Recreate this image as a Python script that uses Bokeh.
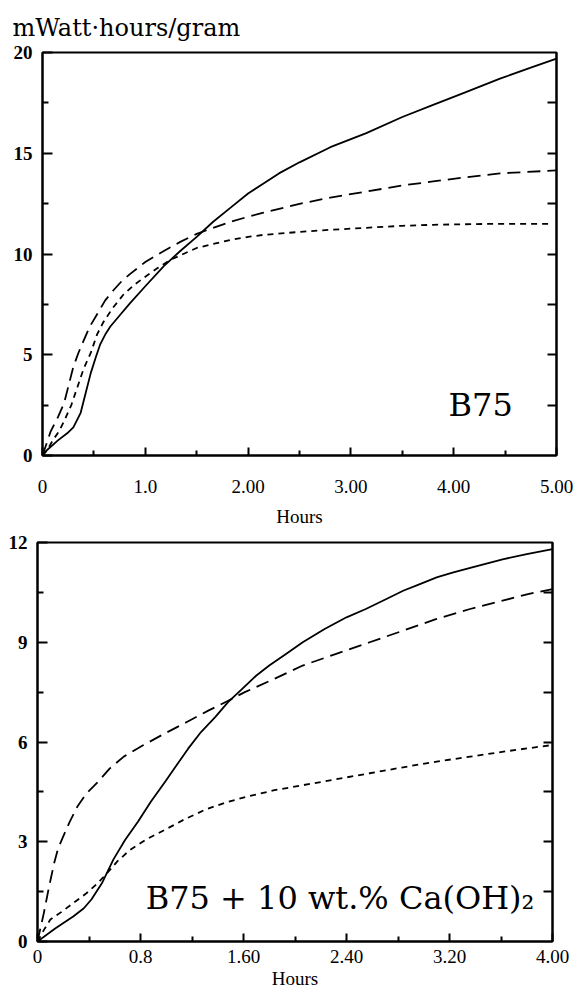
from bokeh.plotting import figure
from bokeh.models import FixedTicker, LinearAxis, Label, Range1d
from bokeh.layouts import column
from bokeh.embed import file_html
from bokeh.resources import INLINE

# ---------------- data: B75 ----------------
b75_solid_h = [0, 0.05, 0.15, 0.24, 0.30, 0.37, 0.42, 0.47, 0.52, 0.56, 0.61, 0.66, 0.75, 0.85, 1.00, 1.18, 1.34,
               1.50, 1.66, 1.83, 2.00, 2.15, 2.30, 2.50, 2.80, 3.15, 3.50, 3.80, 4.10, 4.45, 4.75, 5.00]
b75_solid_v = [0, 0.3, 0.75, 1.1, 1.4, 2.1, 3.1, 4.1, 4.9, 5.5, 6.0, 6.4, 6.95, 7.55, 8.4, 9.4, 10.15,
               10.85, 11.6, 12.3, 13.0, 13.5, 14.0, 14.55, 15.3, 16.0, 16.8, 17.4, 18.0, 18.7, 19.25, 19.7]
b75_long_h = [0, 0.08, 0.15, 0.21, 0.26, 0.30, 0.35, 0.40, 0.46, 0.53, 0.61, 0.69, 0.77, 0.85, 1.00, 1.18, 1.34,
              1.50, 1.66, 1.83, 2.00, 2.15, 2.51, 2.80, 3.15, 3.50, 3.80, 4.10, 4.45, 5.00]
b75_long_v = [0, 1.2, 1.9, 2.6, 3.6, 4.4, 5.1, 5.7, 6.4, 7.0, 7.7, 8.2, 8.65, 9.0, 9.6, 10.15, 10.6,
              11.0, 11.3, 11.6, 11.85, 12.05, 12.5, 12.8, 13.1, 13.4, 13.6, 13.8, 14.0, 14.15]
b75_short_h = [0, 0.05, 0.10, 0.16, 0.21, 0.28, 0.34, 0.40, 0.47, 0.53, 0.59, 0.68, 0.79, 0.90, 1.02, 1.12, 1.24,
               1.37, 1.50, 1.66, 1.83, 2.00, 2.15, 2.51, 2.80, 3.15, 3.50, 3.80, 4.40, 4.92]
b75_short_v = [0, 0.3, 0.75, 1.2, 1.7, 2.5, 3.4, 4.3, 5.1, 6.0, 6.6, 7.3, 8.0, 8.5, 8.95, 9.3, 9.7,
               10.0, 10.3, 10.5, 10.7, 10.85, 10.95, 11.1, 11.2, 11.3, 11.4, 11.45, 11.5, 11.5]

# ---------------- data: B75 + 10 wt.% Ca(OH)2 ----------------
ca_solid_h = [0, 0.14, 0.28, 0.36, 0.42, 0.50, 0.59, 0.68, 0.78, 0.88, 0.99, 1.08, 1.17, 1.27, 1.38, 1.48, 1.59,
              1.70, 1.80, 1.93, 2.06, 2.23, 2.40, 2.55, 2.71, 2.84, 2.97, 3.10, 3.23, 3.42, 3.62, 3.80, 4.00]
ca_solid_v = [0, 0.4, 0.76, 1.0, 1.27, 1.75, 2.47, 3.05, 3.6, 4.2, 4.8, 5.3, 5.8, 6.3, 6.75, 7.2, 7.6,
              8.0, 8.3, 8.65, 9.0, 9.4, 9.75, 10.0, 10.3, 10.55, 10.75, 10.95, 11.1, 11.3, 11.5, 11.65, 11.8]
ca_long_h = [0, 0.05, 0.09, 0.13, 0.16, 0.20, 0.25, 0.31, 0.38, 0.47, 0.56, 0.67, 0.82, 0.99, 1.16, 1.33, 1.47,
             1.61, 1.84, 2.06, 2.32, 2.58, 2.84, 3.10, 3.36, 3.62, 3.81, 4.00]
ca_long_v = [0, 0.87, 1.65, 2.37, 2.8, 3.16, 3.6, 4.06, 4.45, 4.8, 5.2, 5.56, 5.9, 6.26, 6.6, 6.95, 7.22,
             7.5, 7.9, 8.3, 8.65, 9.0, 9.35, 9.7, 10.0, 10.26, 10.45, 10.6]
ca_short_h = [0, 0.05, 0.10, 0.19, 0.28, 0.38, 0.47, 0.55, 0.62, 0.72, 0.85, 0.99, 1.14, 1.30, 1.46, 1.63,
              1.84, 2.06, 2.32, 2.58, 2.84, 3.10, 3.36, 3.62, 3.98]
ca_short_v = [0, 0.35, 0.66, 0.9, 1.16, 1.45, 1.76, 2.1, 2.41, 2.76, 3.08, 3.36, 3.67, 3.96, 4.18, 4.36,
              4.55, 4.7, 4.88, 5.06, 5.24, 5.41, 5.56, 5.71, 5.9]

# ---------------- ticks ----------------
top_x_ticks = [0, 1, 2, 3, 4, 5]
top_x_labels = ["0", "1.0", "2.00", "3.00", "4.00", "5.00"]
top_x_minor = [0.5, 1.5, 2.5, 3.5, 4.5]
top_y_ticks = [0, 5, 10, 15, 20]
top_y_minor = [2.5, 7.5, 12.5, 17.5]

bot_x_ticks = [0, 0.8, 1.6, 2.4, 3.2, 4.0]
bot_x_labels = ["0", "0.8", "1.60", "2.40", "3.20", "4.00"]
bot_x_minor = [0.4, 1.2, 2.0, 2.8, 3.6]
bot_y_ticks = [0, 3, 6, 9, 12]
bot_y_minor = [1.5, 4.5, 7.5, 10.5]

TICK_FONT = "Liberation Serif"
LABEL_FONT = "DejaVu Serif"


def style_fig(p, xt, xl, xm, yt, ym, x_standoff, xlabel_standoff):
    p.xgrid.visible = False
    p.ygrid.visible = False
    p.outline_line_color = "black"
    p.outline_line_width = 2
    p.background_fill_color = "white"
    p.border_fill_color = "white"

    xa = p.xaxis[0]
    xa.ticker = FixedTicker(ticks=xt, minor_ticks=xm)
    xa.major_label_overrides = {t: l for t, l in zip(xt, xl)}
    xa.major_tick_in = 8
    xa.major_tick_out = 0
    xa.minor_tick_in = 5
    xa.minor_tick_out = 0
    xa.axis_line_width = 2
    xa.major_tick_line_width = 2
    xa.minor_tick_line_width = 2
    xa.major_label_text_font = TICK_FONT
    xa.major_label_text_font_size = "19px"
    xa.major_label_text_color = "black"
    xa.major_label_standoff = x_standoff
    xa.axis_label = "Hours"
    xa.axis_label_text_font = TICK_FONT
    xa.axis_label_text_font_size = "19px"
    xa.axis_label_text_font_style = "normal"
    xa.axis_label_text_color = "black"
    xa.axis_label_standoff = xlabel_standoff

    ya = p.yaxis[0]
    ya.ticker = FixedTicker(ticks=yt, minor_ticks=ym)
    ya.major_tick_in = 10
    ya.major_tick_out = 0
    ya.minor_tick_in = 6
    ya.minor_tick_out = 0
    ya.axis_line_width = 2
    ya.major_tick_line_width = 2
    ya.minor_tick_line_width = 2
    ya.major_label_text_font = TICK_FONT
    ya.major_label_text_font_size = "19px"
    ya.major_label_text_font_style = "bold"
    ya.major_label_text_color = "black"
    ya.major_label_standoff = 10

    # right border: unlabelled inward ticks only (drawn as minor ticks, so no labels exist)
    right_ticks = sorted(yt[1:-1] + ym)
    ra = LinearAxis(ticker=FixedTicker(ticks=[], minor_ticks=right_ticks),
                    major_tick_in=0, major_tick_out=0,
                    minor_tick_in=9, minor_tick_out=0,
                    axis_line_width=2, minor_tick_line_width=2)
    p.add_layout(ra, "right")


def draw_curves(p, sh, sv, lh, lv, qh, qv):
    p.line(sh, sv, line_color="black", line_width=1.8, line_join="round")
    p.line(lh, lv, line_color="black", line_width=1.8, line_dash="13 7", line_join="round")
    p.line(qh, qv, line_color="black", line_width=1.8, line_dash="6 5", line_join="round")


# ---------------- top figure ----------------
p1 = figure(width=580, height=530, x_range=Range1d(0, 5), y_range=Range1d(0, 20),
            output_backend="svg", toolbar_location=None, frame_align=False,
            min_border_left=42, min_border_right=24, min_border_top=52, min_border_bottom=75)
p1.title.text = "mWatt\u00b7hours/gram"
p1.title.text_font = LABEL_FONT
p1.title.text_font_size = "24px"
p1.title.text_font_style = "normal"
p1.title.text_color = "black"
p1.title.align = "left"
p1.title.offset = -30
p1.title.standoff = 22
style_fig(p1, top_x_ticks, top_x_labels, top_x_minor, top_y_ticks, top_y_minor, 24, 10)
draw_curves(p1, b75_solid_h, b75_solid_v, b75_long_h, b75_long_v, b75_short_h, b75_short_v)
p1.add_layout(Label(x=3.95, y=2.5, text="B75", text_font=LABEL_FONT, text_color="black",
                    text_font_size="32px", text_align="left", text_baseline="alphabetic"))

# ---------------- bottom figure ----------------
p2 = figure(width=580, height=463, x_range=Range1d(0, 4), y_range=Range1d(0, 12),
            output_backend="svg", toolbar_location=None, frame_align=False,
            min_border_left=37, min_border_right=28, min_border_top=12, min_border_bottom=52)
style_fig(p2, bot_x_ticks, bot_x_labels, bot_x_minor, bot_y_ticks, bot_y_minor, 8, 2)
draw_curves(p2, ca_solid_h, ca_solid_v, ca_long_h, ca_long_v, ca_short_h, ca_short_v)
p2.add_layout(Label(x=0.84, y=1.3, text="B75 + 10 wt.% Ca(OH)\u2082", text_font=LABEL_FONT,
                    text_color="black", text_font_size="32px", text_align="left",
                    text_baseline="alphabetic"))

layout = column(p1, p2, spacing=0)
open("out.html", "w").write(file_html(layout, INLINE))
